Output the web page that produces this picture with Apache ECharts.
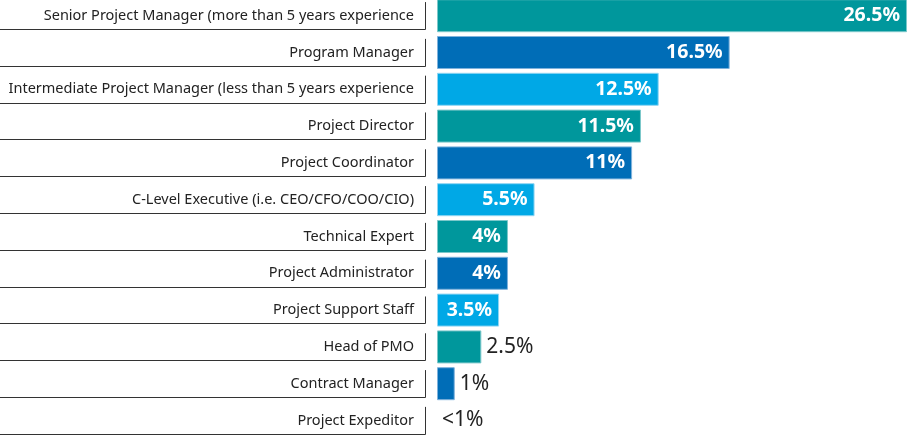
<!DOCTYPE html>
<html>
<head>
<meta charset="utf-8">
<script src="https://cdn.jsdelivr.net/npm/echarts@6/dist/echarts.min.js"></script>
<style>
  html, body { margin: 0; padding: 0; background: #fff; }
  #chart { width: 907px; height: 435px; }
</style>
</head>
<body>
<div id="chart"></div>
<script>
const roles = [
  'Senior Project Manager (more than 5 years experience',
  'Program Manager',
  'Intermediate Project Manager (less than 5 years experience',
  'Project Director',
  'Project Coordinator',
  'C-Level Executive (i.e. CEO/CFO/COO/CIO)',
  'Technical Expert',
  'Project Administrator',
  'Project Support Staff',
  'Head of PMO',
  'Contract Manager',
  'Project Expeditor'
]
const shares = [26.5, 16.5, 12.5, 11.5, 11, 5.5, 4, 4, 3.5, 2.5, 1, 0]
const shareLabels = ['26.5%', '16.5%', '12.5%', '11.5%', '11%', '5.5%', '4%', '4%', '3.5%', '2.5%', '1%', '<1%']

const fills   = ['#00979c', '#006db7', '#00a8e6']
const borders = ['#7cc8ca', '#7fb2dc', '#8fd6f3']
const FONT = "'Noto Sans', sans-serif"

const chart = echarts.init(document.getElementById('chart'), null, { renderer: 'canvas' })

const barData = shares.map((v, i) => {
  const inside = v >= 3
  return {
    value: v,
    itemStyle: { color: fills[i % 3], borderColor: borders[i % 3], borderWidth: v > 0 ? 1 : 0 },
    label: inside
      ? { position: 'insideRight', distance: 7, color: '#fff', fontWeight: 'bold', fontSize: 19.5 }
      : { position: 'right', distance: 5, color: '#222', fontWeight: 'normal', fontSize: 21 }
  }
})

chart.setOption({
  animation: false,
  grid: [
    { left: 437, right: 0, top: 15.7, bottom: 14.5 },
    { left: 0, width: 426, top: 15.7, bottom: 14.5 }
  ],
  xAxis: [
    { gridIndex: 0, type: 'value', min: 0, max: 26.5, show: false },
    { gridIndex: 1, type: 'value', min: 0, max: 1, show: false }
  ],
  yAxis: [
    {
      gridIndex: 0, type: 'category', data: roles, inverse: true, boundaryGap: false,
      axisLine: { show: false }, axisTick: { show: false }, splitLine: { show: false },
      axisLabel: { margin: 23, color: '#222', fontSize: 14.5, fontFamily: FONT }
    },
    { gridIndex: 1, type: 'category', data: roles, inverse: true, boundaryGap: false, show: false }
  ],
  series: [
    {
      type: 'bar', xAxisIndex: 0, yAxisIndex: 0,
      data: barData, barWidth: 33,
      label: {
        show: true, fontFamily: FONT,
        formatter: p => shareLabels[p.dataIndex]
      }
    },
    {
      // bracket under each role label
      type: 'custom', xAxisIndex: 1, yAxisIndex: 1,
      data: roles.map((r, i) => [1, i]),
      renderItem: (params, api) => {
        const right = api.coord([1, api.value(1)])
        const left = api.coord([0, api.value(1)])
        const band = 36.8
        const yTop = right[1] - band * 0.37
        const yBot = Math.round(right[1] + band * 0.36) + 0.5
        return {
          type: 'polyline',
          shape: { points: [[right[0] - 0.5, yTop], [right[0] - 0.5, yBot], [left[0], yBot]] },
          style: { stroke: '#333', lineWidth: 1, fill: null }
        }
      }
    }
  ]
})
</script>
</body>
</html>
